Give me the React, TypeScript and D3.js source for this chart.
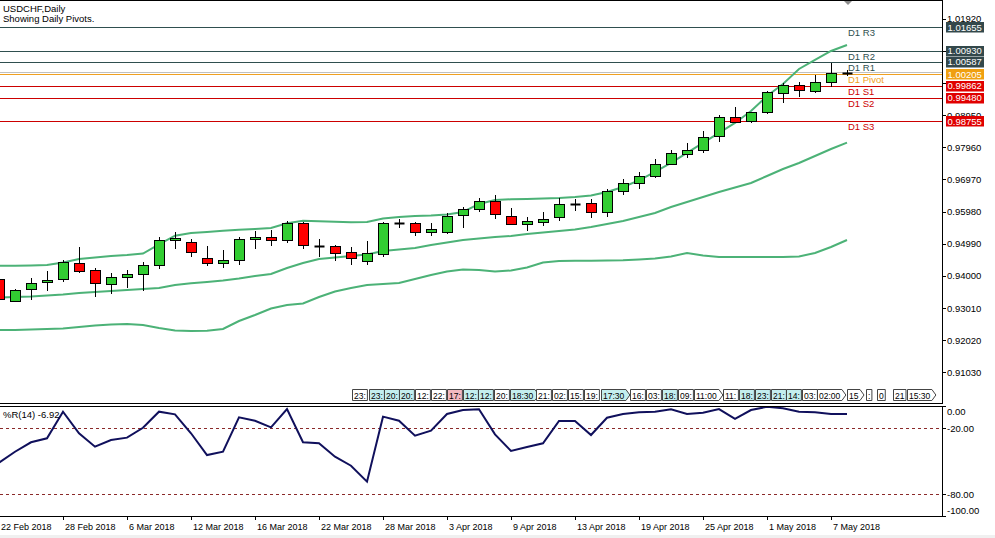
import React from 'react';
import * as d3 from 'd3';

const FONT = '"Liberation Sans", Arial, sans-serif';

// daily candles, 22 Feb 2018 .. 8 May 2018
const opens = [0.93904, 0.93226, 0.93586, 0.93802, 0.93894, 0.94396, 0.94172, 0.9374, 0.93956, 0.94058, 0.94326, 0.95096, 0.95034, 0.94541, 0.94387, 0.9448, 0.95126, 0.95188, 0.95096, 0.95619, 0.94929, 0.94911, 0.94726, 0.94449, 0.94664, 0.95619, 0.95619, 0.9536, 0.9536, 0.95866, 0.9605, 0.96306, 0.95835, 0.95588, 0.9565, 0.95804, 0.96204, 0.96235, 0.95958, 0.96605, 0.96851, 0.97085, 0.97436, 0.97763, 0.97877, 0.98317, 0.98884, 0.9877, 0.99056, 0.99623, 0.9987, 0.99703, 0.9998, 1.0024];
const highs = [0.93965, 0.93596, 0.93925, 0.9415, 0.9448, 0.94889, 0.94233, 0.94079, 0.94181, 0.94427, 0.95197, 0.95342, 0.95136, 0.9492, 0.94788, 0.95188, 0.95373, 0.95404, 0.95681, 0.9565, 0.95126, 0.94951, 0.9488, 0.95074, 0.95659, 0.95761, 0.95659, 0.95619, 0.95927, 0.96112, 0.96389, 0.96491, 0.96081, 0.95804, 0.95958, 0.96389, 0.96358, 0.96358, 0.96666, 0.96984, 0.97208, 0.9759, 0.97877, 0.98083, 0.98462, 0.98955, 0.99192, 0.99045, 0.99703, 0.9995, 0.99971, 1.00196, 1.00566, 1.00341];
const lows = [0.93226, 0.93195, 0.93257, 0.93543, 0.9382, 0.94079, 0.93358, 0.93432, 0.93636, 0.93543, 0.94202, 0.94837, 0.94572, 0.94295, 0.94233, 0.94326, 0.94837, 0.94929, 0.95003, 0.94818, 0.9459, 0.94458, 0.94326, 0.94326, 0.94572, 0.95465, 0.95219, 0.95237, 0.95299, 0.95484, 0.95958, 0.95761, 0.95588, 0.95382, 0.95545, 0.95681, 0.95989, 0.95773, 0.95804, 0.96482, 0.96666, 0.97014, 0.97415, 0.9764, 0.97794, 0.98132, 0.98699, 0.98699, 0.98976, 0.99334, 0.99518, 0.99642, 0.99808, 1.00156];
const closes = [0.93288, 0.93565, 0.93771, 0.93873, 0.94427, 0.94141, 0.93771, 0.93956, 0.94048, 0.94326, 0.95096, 0.95157, 0.94726, 0.94387, 0.9448, 0.95126, 0.95188, 0.95096, 0.95619, 0.94951, 0.94929, 0.94695, 0.94541, 0.94695, 0.95619, 0.95619, 0.9536, 0.95453, 0.95844, 0.9605, 0.96315, 0.95896, 0.95598, 0.95681, 0.95742, 0.96204, 0.96204, 0.95958, 0.96605, 0.96851, 0.97076, 0.97446, 0.97794, 0.97877, 0.98286, 0.98884, 0.9873, 0.99038, 0.99654, 0.99888, 0.99716, 0.99962, 1.00239, 1.0024];

// bollinger bands
const bbUpper = [0.94313, 0.94313, 0.9432, 0.94335, 0.94412, 0.9452, 0.94566, 0.94612, 0.94643, 0.94689, 0.94973, 0.95237, 0.95321, 0.95351, 0.95391, 0.95422, 0.95444, 0.95475, 0.95619, 0.95699, 0.95681, 0.95669, 0.9565, 0.95659, 0.95767, 0.95813, 0.95844, 0.9586, 0.9589, 0.95967, 0.96214, 0.96337, 0.96359, 0.96368, 0.96383, 0.96399, 0.96429, 0.96476, 0.96583, 0.96737, 0.96938, 0.97199, 0.97477, 0.97785, 0.98093, 0.98401, 0.98709, 0.99078, 0.9954, 0.9991, 1.00372, 1.00649, 1.00926, 1.01111];
const bbMiddle = [0.93334, 0.93349, 0.93365, 0.93396, 0.93426, 0.93473, 0.93503, 0.93534, 0.93565, 0.93596, 0.93627, 0.93719, 0.93771, 0.93811, 0.93858, 0.93919, 0.93996, 0.94058, 0.94243, 0.94397, 0.9452, 0.94566, 0.94612, 0.94658, 0.94766, 0.94812, 0.94859, 0.94951, 0.95028, 0.95105, 0.95151, 0.95197, 0.95228, 0.9529, 0.95336, 0.95382, 0.95428, 0.95505, 0.95598, 0.9569, 0.95813, 0.95937, 0.96121, 0.96275, 0.96429, 0.96583, 0.96722, 0.96861, 0.97076, 0.97292, 0.97477, 0.97692, 0.97908, 0.98102];
const bbLower = [0.92333, 0.92333, 0.92348, 0.92364, 0.92379, 0.92425, 0.92472, 0.92502, 0.92518, 0.92487, 0.92395, 0.92318, 0.92302, 0.92311, 0.92364, 0.9261, 0.92795, 0.92995, 0.93103, 0.93149, 0.93349, 0.93519, 0.93627, 0.93719, 0.9375, 0.93781, 0.93904, 0.94027, 0.94135, 0.94196, 0.94181, 0.94135, 0.94166, 0.94258, 0.94412, 0.94458, 0.94467, 0.94467, 0.94474, 0.94483, 0.94504, 0.94535, 0.94597, 0.94705, 0.94628, 0.94581, 0.94581, 0.94581, 0.94581, 0.94581, 0.94597, 0.94705, 0.94889, 0.95105];

// Williams %R(14)
const williamsR = [-51.3, -41.3, -32.7, -29.1, -4.9, -24.5, -36.7, -30.6, -28.5, -19.5, -4.9, -7.3, -24.5, -44.3, -41.3, -10.0, -13.1, -19.1, -2.5, -32.7, -33.6, -45.8, -54.0, -68.5, -9.4, -13.1, -26.7, -22.2, -7.0, -3.4, -2.7, -25.5, -40.6, -37.0, -33.6, -13.4, -13.4, -26.1, -10.4, -7.0, -5.5, -4.9, -2.7, -7.0, -5.8, -2.5, -11.5, -3.4, -0.4, -1.8, -4.9, -5.5, -7.0, -6.92];

const pivotNames = ['D1 R3', 'D1 R2', 'D1 R1', 'D1 Pivot', 'D1 S1', 'D1 S2', 'D1 S3'];
const pivotValues = [1.01655, 1.0093, 1.00587, 1.00205, 0.99862, 0.9948, 0.98755];
const pivotColors = ['#2f4f4f', '#2f4f4f', '#2f4f4f', '#f0a020', '#cc0000', '#cc0000', '#cc0000'];
const pivotBoxColors = ['#33484b', '#33484b', '#33484b', '#f0a010', '#e00000', '#e00000', '#e00000'];

const priceTicks = [1.0192, 1.0093, 0.9994, 0.9895, 0.9796, 0.9697, 0.9598, 0.9499, 0.94, 0.9301, 0.9202, 0.9103];
const wprTicks = [0, -20, -80, -100];

const dateTickIdx = [0, 4, 8, 12, 16, 20, 24, 28, 32, 36, 40, 44, 48, 52];
const dateTickLabels = ['22 Feb 2018', '28 Feb 2018', '6 Mar 2018', '12 Mar 2018', '16 Mar 2018', '22 Mar 2018', '28 Mar 2018', '3 Apr 2018', '9 Apr 2018', '13 Apr 2018', '19 Apr 2018', '25 Apr 2018', '1 May 2018', '7 May 2018'];

// calendar events strip (bar position, text, colour kind, arrow tail)
const eventTimes = [22.06, 23.1, 24.06, 25.03, 26.0, 27.0, 28.0, 29.0, 29.94, 30.96, 31.94, 33.56, 34.54, 35.56, 36.56, 37.6, 39.44, 40.43, 41.44, 42.41, 43.42, 45.28, 46.25, 47.25, 48.25, 49.2, 50.18, 51.1, 52.98, 54.19, 54.86, 55.88, 56.74];
const eventLabels = ['23:', '23:', '20:', '20:', '12:', '22:', '17:', '12:', '12:', '20:', '18:30', '21:', '02:', '15:', '19:', '17:30', '16:', '03:', '18:', '09:', '11:00', '11:', '18:', '23:', '21:', '14:', '03:', '02:00', '15', ':', '0', '21', '15:30'];
const eventKinds = ['w', 'c', 'c', 'c', 'w', 'w', 'p', 'c', 'c', 'w', 'c', 'w', 'w', 'w', 'w', 'c', 'w', 'w', 'c', 'w', 'w', 'w', 'c', 'c', 'c', 'c', 'w', 'w', 'w', 'w', 'w', 'w', 'w'];
const eventArrows = [10, 15, 20, 27, 28, 32];

const kindFill: Record<string, string> = { w: '#ffffff', c: '#c4eeee', p: '#f4b8c0' };

function textW(s: string) {
  let w = 0;
  for (const ch of s) w += ch === ':' ? 2.4 : ch === ' ' ? 2.4 : 4.75;
  return w;
}

const App: React.FC = () => {
  const x = d3.scaleLinear().domain([0, 53]).range([-1, 847]);
  const y = d3.scaleLinear().domain([0.9103, 1.0192]).range([372.3, 18.7]);
  const yR = d3.scaleLinear().domain([-100, 0]).range([516.3, 406.3]);

  const band = d3.line<number>().x((_, i) => x(i)).y(d => y(d));
  const wprLine = d3.line<number>().x((_, i) => x(i)).y(d => yR(d));

  const right = 942.5;
  const lastClose = closes[closes.length - 1];

  // price labels hidden under a level box are not drawn (as on the terminal)
  const hidden = (v: number) => pivotValues.some(p => Math.abs(y(p) - y(v)) < 5);

  return (
    <div>
      <style>{'body{margin:0}'}</style>
      <svg width={995} height={538} style={{ display: 'block', background: '#fff' }} fontFamily={FONT}>
        <defs>
          <clipPath id="mainClip"><rect x={0} y={1} width={942} height={402} /></clipPath>
          <clipPath id="subClip"><rect x={0} y={407} width={942} height={109} /></clipPath>
        </defs>

        {/* main panel */}
        <g clipPath="url(#mainClip)">
          {pivotValues.map((v, i) => (
            <line key={'pl' + i} x1={0} x2={right} y1={Math.round(y(v)) + 0.5} y2={Math.round(y(v)) + 0.5} stroke={pivotColors[i]} strokeWidth={1} />
          ))}
          <line x1={0} x2={right} y1={Math.round(y(lastClose)) - 0.5} y2={Math.round(y(lastClose)) - 0.5} stroke="#c0c0c0" strokeWidth={1} />

          {[bbUpper, bbMiddle, bbLower].map((b, k) => (
            <path key={'bb' + k} d={band(b) || ''} fill="none" stroke="#4cb277" strokeWidth={2} />
          ))}

          {opens.map((o, i) => {
            const cx = Math.round(x(i)) + 0.5;
            const c = closes[i];
            const yo = Math.round(y(o));
            const yc = Math.round(y(c));
            const top = Math.min(yo, yc);
            const h = Math.abs(yo - yc);
            return (
              <g key={'c' + i}>
                <line x1={cx} x2={cx} y1={Math.round(y(highs[i]))} y2={Math.round(y(lows[i]))} stroke="#000" strokeWidth={1} />
                {h === 0 ? (
                  <line x1={cx - 5} x2={cx + 5} y1={top + 0.5} y2={top + 0.5} stroke="#000" strokeWidth={2} />
                ) : (
                  <rect x={cx - 5} y={top + 0.5} width={10} height={h} fill={c >= o ? '#32cd32' : '#ff0000'} stroke="#000" strokeWidth={1} />
                )}
              </g>
            );
          })}

          {pivotNames.map((n, i) => (
            <text key={'pn' + i} x={848} y={y(pivotValues[i]) + 9} fontSize={9.5} fill={pivotColors[i]}>{n}</text>
          ))}

          {eventTimes.map((t, i) => {
            const lx = Math.round(x(t)) + 0.5;
            const w = textW(eventLabels[i]) + 3;
            const arrow = eventArrows.includes(i);
            const pts = arrow
              ? `${lx},389.5 ${lx + w},389.5 ${lx + w + 4},395 ${lx + w},400.5 ${lx},400.5`
              : `${lx},389.5 ${lx + w},389.5 ${lx + w},400.5 ${lx},400.5`;
            return (
              <g key={'ev' + i}>
                <polygon points={pts} fill={kindFill[eventKinds[i]]} stroke="#444" strokeWidth={1} />
                <text x={lx + 1.5} y={398.5} fontSize={8.5} fill="#000">{eventLabels[i]}</text>
              </g>
            );
          })}
        </g>

        <text x={3} y={11.5} fontSize={9.5} fill="#000">USDCHF,Daily</text>
        <text x={3} y={22} fontSize={9.5} fill="#000">Showing Daily Pivots.</text>
        <polygon points="843,0 853,0 848,5" fill="#8c8c8c" />

        {/* sub panel: Williams %R */}
        <g clipPath="url(#subClip)">
          {[-20, -80].map(v => (
            <line key={'lv' + v} x1={0} x2={right} y1={Math.round(yR(v)) + 0.5} y2={Math.round(yR(v)) + 0.5} stroke="#8b2a2a" strokeDasharray="3,3" strokeWidth={1} />
          ))}
          <path d={wprLine(williamsR) || ''} fill="none" stroke="#10105c" strokeWidth={2} />
        </g>
        <text x={3} y={418} fontSize={9.5} fill="#000">%R(14) -6.92</text>

        {/* frames */}
        <line x1={0} x2={right} y1={0.5} y2={0.5} stroke="#000" />
        <line x1={0} x2={right} y1={403.5} y2={403.5} stroke="#000" />
        <line x1={0} x2={right} y1={406.5} y2={406.5} stroke="#000" />
        <line x1={0} x2={right} y1={516.5} y2={516.5} stroke="#000" />
        <line x1={right} x2={right} y1={0} y2={404} stroke="#000" />
        <line x1={right} x2={right} y1={406} y2={517} stroke="#000" />

        {/* price axis */}
        {priceTicks.map(v => (
          <g key={'pt' + v}>
            <line x1={right} x2={946} y1={Math.round(y(v)) + 0.5} y2={Math.round(y(v)) + 0.5} stroke="#000" />
            {!hidden(v) && <text x={947} y={y(v) + 3.5} fontSize={9.5} fill="#000">{v.toFixed(5)}</text>}
          </g>
        ))}
        {pivotValues.map((v, i) => (
          <g key={'pb' + i}>
            <rect x={946} y={Math.round(y(v)) - 5} width={38} height={10.5} fill={pivotBoxColors[i]} />
            <text x={947.5} y={y(v) + 3.5} fontSize={9.5} fill="#fff">{v.toFixed(5)}</text>
          </g>
        ))}

        {/* %R axis */}
        {wprTicks.map(v => {
          const ty = yR(v);
          const ly = Math.min(Math.max(ty, 411.7), 510);
          return (
            <g key={'wt' + v}>
              <line x1={right} x2={946} y1={Math.round(ty) + 0.5} y2={Math.round(ty) + 0.5} stroke="#000" />
              <text x={947} y={ly + 3.5} fontSize={9.5} fill="#000">{v.toFixed(2)}</text>
            </g>
          );
        })}

        {/* time axis */}
        {dateTickIdx.map((idx, k) => {
          const tx = Math.round(x(idx)) + 0.5;
          return (
            <g key={'dt' + idx}>
              <line x1={tx} x2={tx} y1={516} y2={520} stroke="#000" />
              <text x={tx + 1.5} y={529.5} fontSize={9} fill="#000">{dateTickLabels[k]}</text>
            </g>
          );
        })}
        <rect x={0} y={535} width={995} height={3} fill="#f0f0f0" />
      </svg>
    </div>
  );
};

export default App;
